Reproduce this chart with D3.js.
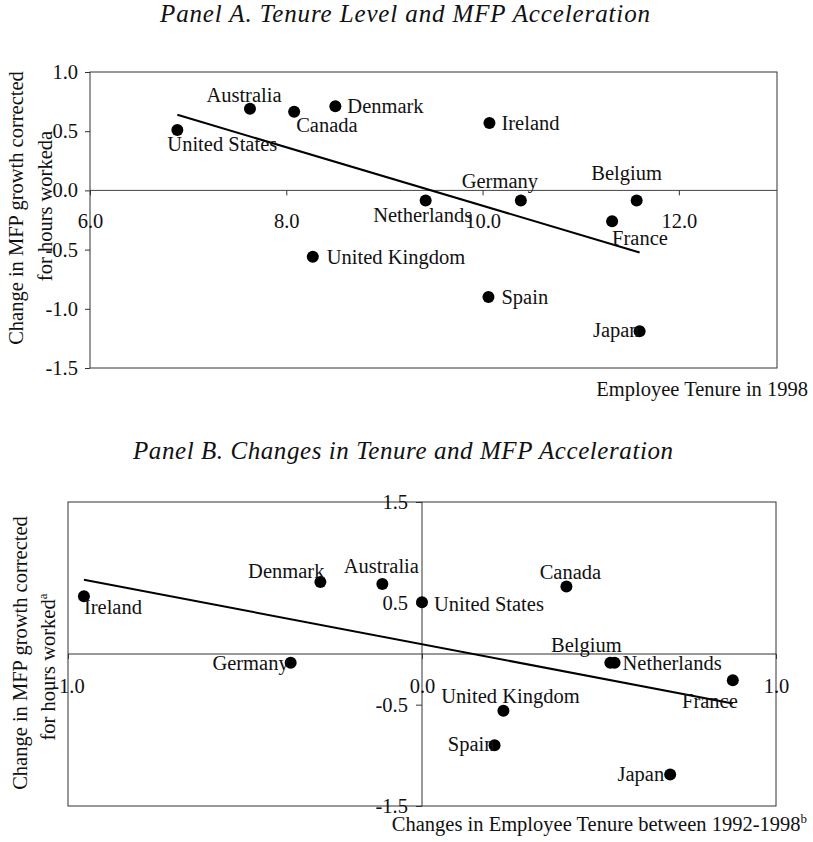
<!DOCTYPE html>
<html>
<head>
<meta charset="utf-8">
<script src="https://cdn.jsdelivr.net/npm/d3@7"></script>
<style>
  html, body { margin: 0; padding: 0; background: #fff; }
  svg { display: block; }
  text { font-family: "Liberation Serif", "Times New Roman", serif; fill: #111; }
</style>
</head>
<body>
<svg id="chart" width="813" height="842"></svg>
<script>
// ---------------- DATA ----------------
const countries = ["United States","Australia","Canada","Denmark","United Kingdom","Netherlands",
                   "Ireland","Germany","Spain","France","Belgium","Japan"];
// Change in MFP growth corrected for hours worked (y, both panels)
const mfpChange = [0.51, 0.69, 0.665, 0.71, -0.56, -0.086, 0.57, -0.086, -0.90, -0.26, -0.086, -1.19];
// Panel A: employee tenure in 1998
const tenure1998 = [6.89, 7.63, 8.08, 8.50, 8.27, 9.42, 10.07, 10.39, 10.06, 11.32, 11.57, 11.60];
// Panel B: change in employee tenure 1992-1998
const tenureChange = [0.0, -0.112, 0.408, -0.287, 0.230, 0.544, -0.955, -0.371, 0.205, 0.878, 0.532, 0.701];

const xTicksA = [6, 8, 10, 12];
const yTicksA = [1.0, 0.5, 0.0, -0.5, -1.0, -1.5];
const xTicksB = [-1, 0, 1];
const yTicksB = [1.5, 0.5, -0.5, -1.5];

// ---------------- LAYOUT (label placement) ----------------
const labelsA = {
  "United States": {a:"start", dx:-10, dy:21},
  "Australia": {a:"middle", dx:-6, dy:-7},
  "Canada": {a:"start", dx:2, dy:20},
  "Denmark": {a:"start", dx:12, dy:7},
  "United Kingdom": {a:"start", dx:14, dy:7},
  "Netherlands": {a:"middle", dx:-3, dy:21},
  "Ireland": {a:"start", dx:12, dy:7},
  "Germany": {a:"middle", dx:-21, dy:-13},
  "Spain": {a:"start", dx:13, dy:7},
  "France": {a:"start", dx:0, dy:24},
  "Belgium": {a:"middle", dx:-10, dy:-21},
  "Japan": {a:"end", dx:0, dy:6}
};
const labelsB = {
  "Ireland": {a:"start", dx:0, dy:18},
  "Denmark": {a:"end", dx:4, dy:-4},
  "Australia": {a:"middle", dx:-1, dy:-11},
  "Germany": {a:"end", dx:-2, dy:7},
  "United States": {a:"start", dx:12, dy:9},
  "Canada": {a:"middle", dx:4, dy:-8},
  "Belgium": {a:"middle", dx:-24, dy:-11},
  "Netherlands": {a:"start", dx:8, dy:7},
  "France": {a:"end", dx:5, dy:28},
  "United Kingdom": {a:"middle", dx:7, dy:-8},
  "Spain": {a:"end", dx:0, dy:6},
  "Japan": {a:"end", dx:-6, dy:6}
};

const svg = d3.select("#chart");
svg.append("rect").attr("width", 813).attr("height", 842).attr("fill", "#fff");

const fmt = d => d.toFixed(1);
const FS = 20.5;

function regression(xs, ys) {
  const mx = d3.mean(xs), my = d3.mean(ys);
  let sxy = 0, sxx = 0;
  xs.forEach((x, i) => { sxy += (x - mx) * (ys[i] - my); sxx += (x - mx) * (x - mx); });
  const b = sxy / sxx;
  return { b, a: my - b * mx };
}

function drawPoints(g, x, y, xs, labels) {
  const pts = countries.map((c, i) => ({ c, x: xs[i], y: mfpChange[i] }));
  // trend line
  const r = regression(xs, mfpChange);
  const [x0, x1] = d3.extent(xs);
  g.append("line")
    .attr("x1", x(x0)).attr("y1", y(r.a + r.b * x0))
    .attr("x2", x(x1)).attr("y2", y(r.a + r.b * x1))
    .attr("stroke", "#000").attr("stroke-width", 2);
  g.selectAll("circle.pt").data(pts).join("circle")
    .attr("class", "pt")
    .attr("cx", d => x(d.x)).attr("cy", d => y(d.y)).attr("r", 6)
    .attr("fill", "#000");
  g.selectAll("text.lbl").data(pts).join("text")
    .attr("class", "lbl")
    .attr("x", d => x(d.x) + labels[d.c].dx)
    .attr("y", d => y(d.y) + labels[d.c].dy)
    .attr("text-anchor", d => labels[d.c].a)
    .attr("font-size", FS)
    .text(d => d.c);
}

// ---------------- PANEL A ----------------
{
  const L = 90, R = 777, T = 72, B = 368;
  const x = d3.scaleLinear().domain([6, 13]).range([L, R]);
  const y = d3.scaleLinear().domain([-1.5, 1.0]).range([B, T]);
  const g = svg.append("g");

  svg.append("text").attr("x", 405).attr("y", 22).attr("text-anchor", "middle")
    .attr("font-size", 25).attr("font-style", "italic")
    .attr("textLength", 490).attr("lengthAdjust", "spacing")
    .text("Panel A. Tenure Level and MFP Acceleration");

  g.append("rect").attr("x", L).attr("y", T).attr("width", R - L).attr("height", B - T)
    .attr("fill", "none").attr("stroke", "#333").attr("stroke-width", 1);
  g.append("line").attr("x1", L).attr("x2", R).attr("y1", y(0)).attr("y2", y(0))
    .attr("stroke", "#444").attr("stroke-width", 1);

  const ya = g.append("g").attr("transform", `translate(${L},0)`)
    .call(d3.axisLeft(y).tickValues(yTicksA).tickFormat(fmt).tickSize(5).tickPadding(7));
  const xa = g.append("g").attr("transform", `translate(0,${y(0)})`)
    .call(d3.axisBottom(x).tickValues(xTicksA).tickFormat(fmt).tickSize(5).tickPadding(18));
  [ya, xa].forEach(a => {
    a.select(".domain").remove();
    a.selectAll("text").attr("font-size", FS).attr("fill", "#111")
      .style("font-family", '"Liberation Serif", "Times New Roman", serif');
    a.selectAll("line").attr("stroke", "#333");
  });

  drawPoints(g, x, y, tenure1998, labelsA);

  g.append("text").attr("transform", "translate(23,208) rotate(-90)")
    .attr("text-anchor", "middle").attr("font-size", FS)
    .text("Change in MFP growth corrected");
  g.append("text").attr("transform", "translate(52,206) rotate(-90)")
    .attr("text-anchor", "middle").attr("font-size", FS)
    .text("for hours workeda");
  g.append("text").attr("x", 808).attr("y", 396).attr("text-anchor", "end")
    .attr("font-size", FS).text("Employee Tenure in 1998");
}

// ---------------- PANEL B ----------------
{
  const L = 68, R = 776, T = 502, B = 806;
  const x = d3.scaleLinear().domain([-1, 1]).range([L, R]);
  const y = d3.scaleLinear().domain([-1.5, 1.5]).range([B, T]);
  const g = svg.append("g");

  svg.append("text").attr("x", 403).attr("y", 459).attr("text-anchor", "middle")
    .attr("font-size", 25).attr("font-style", "italic")
    .attr("textLength", 540).attr("lengthAdjust", "spacing")
    .text("Panel B. Changes in Tenure and MFP Acceleration");

  g.append("rect").attr("x", L).attr("y", T).attr("width", R - L).attr("height", B - T)
    .attr("fill", "none").attr("stroke", "#333").attr("stroke-width", 1);
  g.append("line").attr("x1", L).attr("x2", R).attr("y1", y(0)).attr("y2", y(0))
    .attr("stroke", "#333").attr("stroke-width", 1);
  g.append("line").attr("x1", x(0)).attr("x2", x(0)).attr("y1", T).attr("y2", B)
    .attr("stroke", "#333").attr("stroke-width", 1);

  const ya = g.append("g").attr("transform", `translate(${x(0)},0)`)
    .call(d3.axisLeft(y).tickValues(yTicksB).tickFormat(fmt).tickSize(6).tickPadding(8));
  const xa = g.append("g").attr("transform", `translate(0,${y(0)})`)
    .call(d3.axisBottom(x).tickValues(xTicksB).tickFormat(fmt).tickSize(5).tickPadding(19));
  [ya, xa].forEach(a => {
    a.select(".domain").remove();
    a.selectAll("text").attr("font-size", FS).attr("fill", "#111")
      .style("font-family", '"Liberation Serif", "Times New Roman", serif');
    a.selectAll("line").attr("stroke", "#333");
  });

  drawPoints(g, x, y, tenureChange, labelsB);

  g.append("text").attr("transform", "translate(27,653) rotate(-90)")
    .attr("text-anchor", "middle").attr("font-size", FS)
    .text("Change in MFP growth corrected");
  const t2 = g.append("text").attr("transform", "translate(55,667) rotate(-90)")
    .attr("text-anchor", "middle").attr("font-size", FS);
  t2.append("tspan").text("for hours worked");
  t2.append("tspan").attr("font-size", 13).attr("dy", -8).text("a");

  const t3 = g.append("text").attr("x", 807).attr("y", 831).attr("text-anchor", "end")
    .attr("font-size", FS);
  t3.append("tspan").text("Changes in Employee Tenure between 1992-1998");
  t3.append("tspan").attr("font-size", 13).attr("dy", -8).text("b");
}
</script>
</body>
</html>
